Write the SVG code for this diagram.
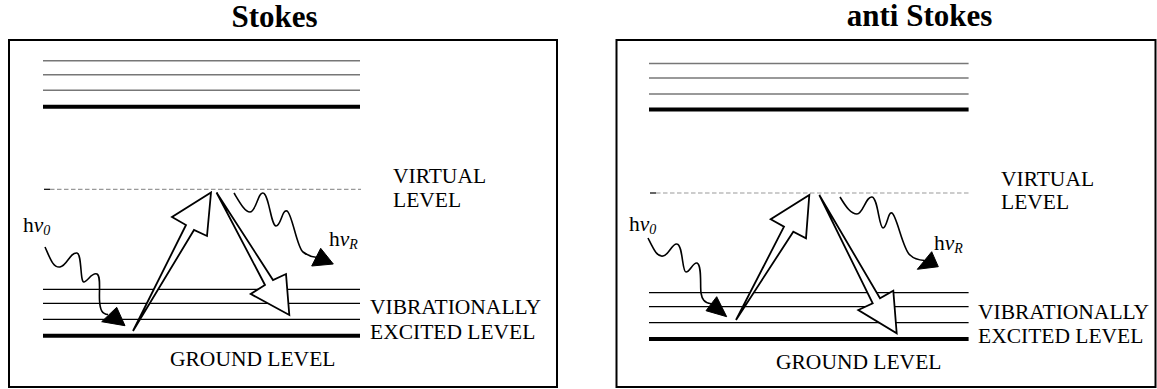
<svg xmlns="http://www.w3.org/2000/svg" width="1157" height="389" viewBox="0 0 1157 389">
<style>
.title{font-family:"Liberation Serif","Times New Roman",serif;font-weight:bold;font-size:31px;fill:#000;text-anchor:middle}
.lbl{font-family:"Liberation Serif","Times New Roman",serif;font-size:21.5px;fill:#000}
.it{font-style:italic}
.sub{font-style:italic;font-size:14px}
.box{fill:#fff;stroke:#000;stroke-width:2}
.gray{stroke:#777;stroke-width:1.4}
.thin{stroke:#000;stroke-width:1.2}
.thick{stroke:#000;stroke-width:4}
.dash{stroke:#999;stroke-width:1.2;stroke-dasharray:4.5 2.5}
.tick{stroke:#000;stroke-width:1.2}
.hollow{fill:#fff;stroke:#000;stroke-width:1.8;stroke-linejoin:miter}
.wave{fill:none;stroke:#000;stroke-width:1.6}
.head{fill:#000;stroke:#000;stroke-width:1}
</style>
<rect width="1157" height="389" fill="#fff"/>

<g id="stokes-panel">
  <text class="title" x="274.5" y="26.7">Stokes</text>
  <rect class="box" x="9" y="40" width="548" height="347"/>
  <g id="stokes-upper-levels">
    <line class="gray" x1="43" y1="60.7" x2="360" y2="60.7"/>
    <line class="gray" x1="43" y1="74.7" x2="360" y2="74.7"/>
    <line class="gray" x1="43" y1="90.3" x2="360" y2="90.3"/>
    <line class="thick" x1="43" y1="106.8" x2="360" y2="106.8"/>
  </g>
  <g id="stokes-virtual-level">
    <line class="tick" x1="44" y1="189.3" x2="50" y2="189.3"/>
    <line class="dash" x1="50" y1="189.3" x2="361" y2="189.3"/>
    <text class="lbl" x="393" y="182.7">VIRTUAL</text>
    <text class="lbl" x="393" y="206.7">LEVEL</text>
  </g>
  <g id="stokes-vibrational-levels">
    <line class="thin" x1="43" y1="289.3" x2="360" y2="289.3"/>
    <line class="thin" x1="43" y1="303.3" x2="360" y2="303.3"/>
    <line class="thin" x1="43" y1="319.3" x2="360" y2="319.3"/>
    <text class="lbl" x="370" y="314.3">VIBRATIONALLY</text>
    <text class="lbl" x="370" y="339.3">EXCITED LEVEL</text>
  </g>
  <g id="stokes-ground-level">
    <line class="thick" x1="43" y1="335.7" x2="360" y2="335.7"/>
    <text class="lbl" x="170" y="365.7">GROUND LEVEL</text>
  </g>
  <g id="stokes-photon-in-label">
    <text class="lbl" x="23" y="231.7">h<tspan class="it">ν</tspan><tspan class="sub" dy="3">0</tspan></text>
  </g>
  <g id="stokes-photon-out-label">
    <text class="lbl" x="329" y="246">h<tspan class="it">ν</tspan><tspan class="sub" dy="3">R</tspan></text>
  </g>
</g>

<g id="antistokes-panel">
  <text class="title" x="919.5" y="26">anti Stokes</text>
  <rect class="box" x="616.5" y="40" width="539" height="347"/>
  <g id="antistokes-upper-levels">
    <line class="gray" x1="649" y1="63.5" x2="968.6" y2="63.5"/>
    <line class="gray" x1="649" y1="78" x2="968.6" y2="78"/>
    <line class="gray" x1="649" y1="94" x2="968.6" y2="94"/>
    <line class="thick" x1="649" y1="109.5" x2="968.6" y2="109.5"/>
  </g>
  <g id="antistokes-virtual-level">
    <line class="tick" x1="650" y1="193" x2="656" y2="193"/>
    <line class="dash" x1="656" y1="193" x2="968.6" y2="193"/>
    <text class="lbl" x="1001" y="185.7">VIRTUAL</text>
    <text class="lbl" x="1001" y="209.3">LEVEL</text>
  </g>
  <g id="antistokes-vibrational-levels">
    <line class="thin" x1="649" y1="292.7" x2="968.6" y2="292.7"/>
    <line class="thin" x1="649" y1="306.7" x2="968.6" y2="306.7"/>
    <line class="thin" x1="649" y1="322.7" x2="968.6" y2="322.7"/>
    <text class="lbl" x="978" y="319">VIBRATIONALLY</text>
    <text class="lbl" x="978" y="342.7">EXCITED LEVEL</text>
  </g>
  <g id="antistokes-ground-level">
    <line class="thick" x1="649" y1="339" x2="968.6" y2="339"/>
    <text class="lbl" x="776" y="369.3">GROUND LEVEL</text>
  </g>
  <g id="antistokes-photon-in-label">
    <text class="lbl" x="629" y="231">h<tspan class="it">ν</tspan><tspan class="sub" dy="3">0</tspan></text>
  </g>
  <g id="antistokes-photon-out-label">
    <text class="lbl" x="934" y="249.5">h<tspan class="it">ν</tspan><tspan class="sub" dy="3">R</tspan></text>
  </g>
</g>

<g id="connectors">
  <path class="wave" d="M45,247 C50,258 53,268 60,267 C67,266 70,252 77,253 C82,254 80,283 84,282 C88,281 92,272 97,274 C101,276 99,290 99.5,300 C100,310 102,314 108,314.5"/>
  <polygon class="head" points="101.7,321.7 125,325.7 116.7,307.3"/>
  <polygon class="hollow" points="133,331 186,225 172,217 211,192.5 207,236 194,230"/>
  <polygon class="hollow" points="216.5,192.5 273,280 286,274 289.3,315 250.7,294 265,285"/>
  <path class="wave" d="M234,193 C240,203 245,212 250,212 C256,212 258,192 263,193 C269,194 271,226 276,226 C281,226 282,209 287,211 C292,213 297,248 303,252 C307,255 311,257 316,257.2"/>
  <polygon class="head" points="311.7,266 333.3,264 320.7,248.3"/>
  <path class="wave" d="M648,238 C654,250 657,257 663,256 C669,255 672,243 677,244 C683,245 682,272 686,272 C690,272 693,262 697,263 C702,265 700,285 701,293 C702,299 704,303 711,303.7"/>
  <polygon class="head" points="706,310.7 726.7,316.7 716.7,296.7"/>
  <polygon class="hollow" points="736,320 784,226.7 770.7,219.3 809.3,195 806,238.3 793.3,231.7"/>
  <polygon class="hollow" points="819.3,195 880,298.3 893.3,290.7 896.7,333.3 858.3,310 872.7,303.3"/>
  <path class="wave" d="M840,197 C846,207 851,214 857,214 C863,214 866,196 872,197 C878,198 879,228 883,228 C887,228 888,211 892,213 C897,216 903,250 910,255 C913,258 918,260 924.5,260.5"/>
  <polygon class="head" points="917.3,269.3 938.3,266.7 931.7,251.7"/>
</g>
</svg>
